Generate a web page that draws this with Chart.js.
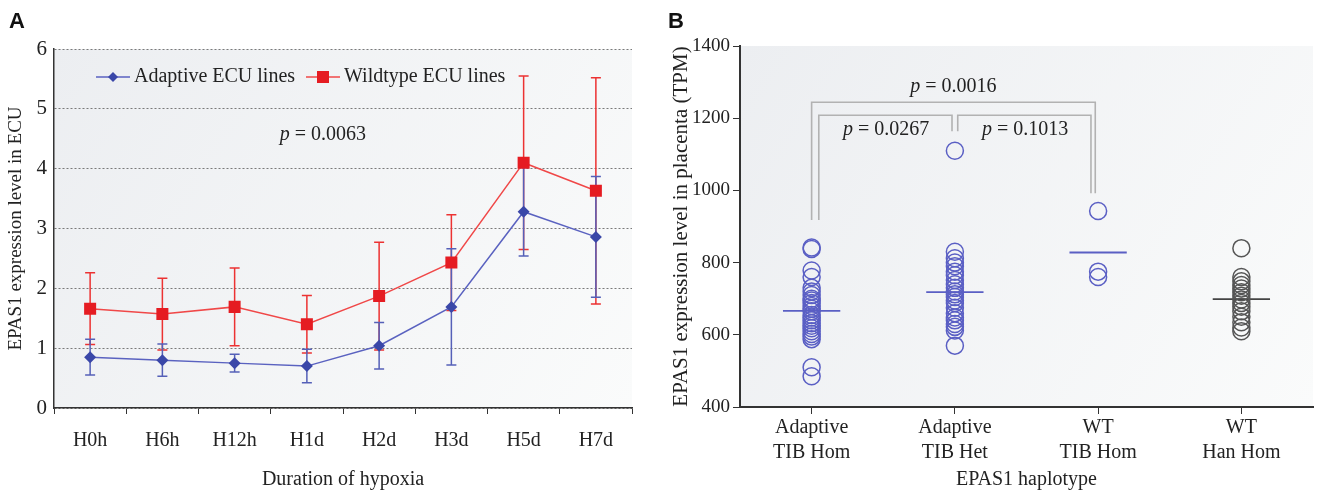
<!DOCTYPE html>
<html>
<head>
<meta charset="utf-8">
<script src="https://cdn.jsdelivr.net/npm/chart.js@4.4.0/dist/chart.umd.min.js"></script>
<style>
  body { margin: 0; background: #fff; width: 1323px; height: 492px; overflow: hidden; position: relative; }
  .wrap { position: absolute; top: 0; height: 492px; }
  #wrapA { left: 0; width: 650px; }
  #wrapB { left: 650px; width: 673px; }
  .tag { position: absolute; font: bold 22px "Liberation Sans", Arial, sans-serif; color: #111; z-index: 2; }
</style>
</head>
<body>
<div id="wrapA" class="wrap"><canvas id="chartA"></canvas></div>
<div id="wrapB" class="wrap"><canvas id="chartB"></canvas></div>
<div class="tag" style="left:9px;top:8px">A</div>
<div class="tag" style="left:668px;top:8px">B</div>
<script>
// panel A: EPAS1 in ECU lines during hypoxia
const hypoxiaLabels = ['H0h', 'H6h', 'H12h', 'H1d', 'H2d', 'H3d', 'H5d', 'H7d'];
const adaptiveMean = [0.85, 0.80, 0.75, 0.70, 1.04, 1.69, 3.28, 2.86];
const adaptiveSd   = [0.30, 0.27, 0.15, 0.28, 0.39, 0.97, 0.74, 1.01];
const wildtypeMean = [1.66, 1.57, 1.69, 1.40, 1.87, 2.43, 4.10, 3.63];
const wildtypeSd   = [0.60, 0.60, 0.65, 0.48, 0.90, 0.80, 1.45, 1.89];
const yTicksA = [0, 1, 2, 3, 4, 5, 6];

// panel B: EPAS1 in placenta by haplotype
const groupLabels = [['Adaptive', 'TIB Hom'], ['Adaptive', 'TIB Het'], ['WT', 'TIB Hom'], ['WT', 'Han Hom']];
const tibHom = [842, 838, 778, 760, 730, 720, 710, 700, 695, 688, 680, 672, 665, 655, 648, 640, 632, 625, 618, 610, 602, 595, 588, 510, 485];
const tibHet = [1110, 830, 812, 800, 790, 775, 765, 752, 740, 730, 720, 712, 705, 695, 688, 675, 660, 648, 640, 630, 622, 612, 570];
const wtTib  = [943, 775, 760];
const wtHan  = [840, 760, 748, 738, 728, 718, 708, 698, 688, 678, 665, 650, 635, 620, 610];
const groupMeans = [666, 718, 828, 699];
const yTicksB = [400, 600, 800, 1000, 1200, 1400];

const serif = '"Liberation Serif", "Times New Roman", serif';
const ink = '#222';

// light gradient behind the plot area
const plotBg = {
  id: 'plotBg',
  beforeDraw(chart) {
    const { ctx, chartArea: a } = chart;
    const g = ctx.createLinearGradient(a.left, a.top, a.right, a.bottom);
    g.addColorStop(0, '#eceef1');
    g.addColorStop(1, '#fafbfb');
    ctx.save();
    ctx.fillStyle = g;
    ctx.fillRect(a.left, a.top, a.right - a.left, a.bottom - a.top);
    ctx.restore();
  }
};

function drawP(ctx, rest, cx, cy, size) {
  ctx.save();
  ctx.fillStyle = ink;
  ctx.textBaseline = 'middle';
  ctx.font = 'italic ' + size + 'px ' + serif;
  const wp = ctx.measureText('p').width;
  ctx.font = size + 'px ' + serif;
  const wr = ctx.measureText(rest).width;
  const x0 = cx - (wp + wr) / 2;
  ctx.font = 'italic ' + size + 'px ' + serif;
  ctx.fillText('p', x0, cy);
  ctx.font = size + 'px ' + serif;
  ctx.fillText(rest, x0 + wp, cy);
  ctx.restore();
}

// error bars from the sd arrays
const errorBars = {
  id: 'errorBars',
  beforeDatasetsDraw(chart) {
    const { ctx, scales: { x, y } } = chart;
    chart.data.datasets.forEach(ds => {
      ctx.save();
      ctx.strokeStyle = ds.errColor;
      ctx.lineWidth = 1.5;
      ds.data.forEach((v, i) => {
        const px = x.getPixelForValue(i);
        const top = y.getPixelForValue(v + ds.sd[i]);
        const bot = y.getPixelForValue(v - ds.sd[i]);
        ctx.beginPath();
        ctx.moveTo(px, top); ctx.lineTo(px, bot);
        ctx.moveTo(px - 5, top); ctx.lineTo(px + 5, top);
        ctx.moveTo(px - 5, bot); ctx.lineTo(px + 5, bot);
        ctx.stroke();
      });
      ctx.restore();
    });
  }
};

// legend inside the plot + p value
const notesA = {
  id: 'notesA',
  afterDatasetsDraw(chart) {
    const { ctx, chartArea: a, scales: { x, y } } = chart;
    const ly = a.top + 28;
    const items = [
      { x: a.left + 42, color: '#5a62c0', fill: '#3a47a8', style: 'diamond', text: 'Adaptive ECU lines' },
      { x: a.left + 252, color: '#f04848', fill: '#e51c22', style: 'square', text: 'Wildtype ECU lines' }
    ];
    ctx.save();
    items.forEach(it => {
      ctx.strokeStyle = it.color;
      ctx.lineWidth = 1.5;
      ctx.beginPath(); ctx.moveTo(it.x, ly); ctx.lineTo(it.x + 34, ly); ctx.stroke();
      ctx.fillStyle = it.fill;
      const cx = it.x + 17;
      if (it.style === 'diamond') {
        ctx.beginPath();
        ctx.moveTo(cx, ly - 5); ctx.lineTo(cx + 5, ly); ctx.lineTo(cx, ly + 5); ctx.lineTo(cx - 5, ly);
        ctx.closePath(); ctx.fill();
      } else {
        ctx.fillRect(cx - 6, ly - 6, 12, 12);
      }
      ctx.fillStyle = ink;
      ctx.font = '20px ' + serif;
      ctx.textBaseline = 'middle';
      ctx.fillText(it.text, it.x + 38, ly);
    });
    ctx.restore();
    drawP(ctx, ' = 0.0063', x.getPixelForValue(3.22), y.getPixelForValue(4.56), 20);
  }
};

new Chart(document.getElementById('chartA'), {
  type: 'line',
  data: {
    labels: hypoxiaLabels,
    datasets: [
      {
        label: 'Wildtype ECU lines',
        data: wildtypeMean,
        sd: wildtypeSd,
        errColor: '#ec3232',
        borderColor: '#f04848',
        backgroundColor: '#e51c22',
        borderWidth: 1.5,
        pointStyle: 'rect',
        pointRadius: 8.5,
        pointBorderWidth: 0,
        order: 0
      },
      {
        label: 'Adaptive ECU lines',
        data: adaptiveMean,
        sd: adaptiveSd,
        errColor: '#5560b8',
        borderColor: '#5a62c0',
        backgroundColor: '#3a47a8',
        borderWidth: 1.5,
        pointStyle: 'rectRot',
        pointRadius: 6,
        pointBorderWidth: 0,
        order: 1
      }
    ]
  },
  options: {
    responsive: true,
    maintainAspectRatio: false,
    animation: false,
    layout: { padding: { top: 49, right: 18, left: 0, bottom: 0 } },
    plugins: { legend: { display: false }, tooltip: { enabled: false } },
    scales: {
      x: {
        offset: true,
        grid: { offset: true, drawOnChartArea: false, tickLength: 6, color: '#333' },
        border: { color: '#333', width: 1.5 },
        ticks: { color: ink, font: { family: serif, size: 20 }, padding: 15 },
        title: { display: true, text: 'Duration of hypoxia', color: ink, font: { family: serif, size: 20 }, padding: { bottom: 0 } },
        afterFit(s) { s.height = 84; }
      },
      y: {
        min: 0,
        max: 6,
        afterBuildTicks(s) { s.ticks = yTicksA.map(v => ({ value: v })); },
        grid: { drawTicks: false, color: '#7a7a7a', lineWidth: 1 },
        border: { color: '#333', width: 1.5, dash: [2, 2] },
        ticks: { color: ink, font: { family: serif, size: 21 }, padding: 7 },
        title: { display: true, text: 'EPAS1 expression level in ECU', color: ink, font: { family: serif, size: 19 }, padding: { top: 5 } },
        afterFit(s) { s.width = 54; }
      }
    }
  },
  plugins: [plotBg, errorBars, notesA]
});

// significance brackets for panel B
const bracketsB = {
  id: 'bracketsB',
  afterDatasetsDraw(chart) {
    const { ctx, scales: { x, y } } = chart;
    const X = v => x.getPixelForValue(v), Y = v => y.getPixelForValue(v);
    const paths = [
      [[0, 918], [0, 1244], [1.98, 1244], [1.98, 992]],
      [[0.05, 918], [0.05, 1208], [0.98, 1208], [0.98, 1164]],
      [[1.02, 1164], [1.02, 1208], [1.95, 1208], [1.95, 992]]
    ];
    ctx.save();
    ctx.strokeStyle = '#b2b2b2';
    ctx.lineWidth = 1.6;
    paths.forEach(p => {
      ctx.beginPath();
      p.forEach((pt, i) => i ? ctx.lineTo(X(pt[0]), Y(pt[1])) : ctx.moveTo(X(pt[0]), Y(pt[1])));
      ctx.stroke();
    });
    ctx.restore();
    drawP(ctx, ' = 0.0016', X(0.99), Y(1286), 20);
    drawP(ctx, ' = 0.0267', X(0.52), Y(1167), 20);
    drawP(ctx, ' = 0.1013', X(1.49), Y(1167), 20);
  }
};

const blue = '#5a5fc4';
const gray = '#555';
const groupColors = [blue, blue, blue, gray];
const groupValues = [tibHom, tibHet, wtTib, wtHan];

const pointSets = groupValues.map((vals, i) => ({
  type: 'scatter',
  data: vals.map(v => ({ x: i, y: v })),
  borderColor: groupColors[i],
  backgroundColor: 'rgba(0,0,0,0)',
  pointRadius: 8.5,
  borderWidth: 1.5
}));
const meanSets = groupMeans.map((m, i) => ({
  type: 'line',
  data: [{ x: i - 0.2, y: m }, { x: i + 0.2, y: m }],
  borderColor: i === 3 ? '#444' : blue,
  borderWidth: 1.8,
  pointRadius: 0
}));

new Chart(document.getElementById('chartB'), {
  type: 'scatter',
  data: { datasets: [...pointSets, ...meanSets] },
  options: {
    responsive: true,
    maintainAspectRatio: false,
    animation: false,
    layout: { padding: { top: 46, right: 1, left: 0, bottom: 0 } },
    plugins: { legend: { display: false }, tooltip: { enabled: false } },
    scales: {
      x: {
        type: 'linear',
        min: -0.5,
        max: 3.5,
        afterBuildTicks(s) { s.ticks = groupLabels.map((_, i) => ({ value: i })); },
        grid: { drawOnChartArea: false, tickLength: 7, color: '#333' },
        border: { color: '#333', width: 2 },
        ticks: {
          color: ink, font: { family: serif, size: 20, lineHeight: 1.25 }, padding: 1,
          callback: v => groupLabels[v]
        },
        title: { display: true, text: 'EPAS1 haplotype', color: ink, font: { family: serif, size: 20 }, padding: { bottom: 0 } },
        afterFit(s) { s.height = 85; }
      },
      y: {
        min: 400,
        max: 1400,
        afterBuildTicks(s) { s.ticks = yTicksB.map(v => ({ value: v })); },
        grid: { drawOnChartArea: false, tickLength: 7, color: '#333' },
        border: { color: '#333', width: 2 },
        ticks: { color: ink, font: { family: serif, size: 19 }, padding: 3, callback: v => String(v) },
        title: { display: true, text: 'EPAS1 expression level in placenta (TPM)', color: ink, font: { family: serif, size: 21 }, padding: { top: 19 } },
        afterFit(s) { s.width = 90; }
      }
    }
  },
  plugins: [plotBg, bracketsB]
});
</script>
</body>
</html>
